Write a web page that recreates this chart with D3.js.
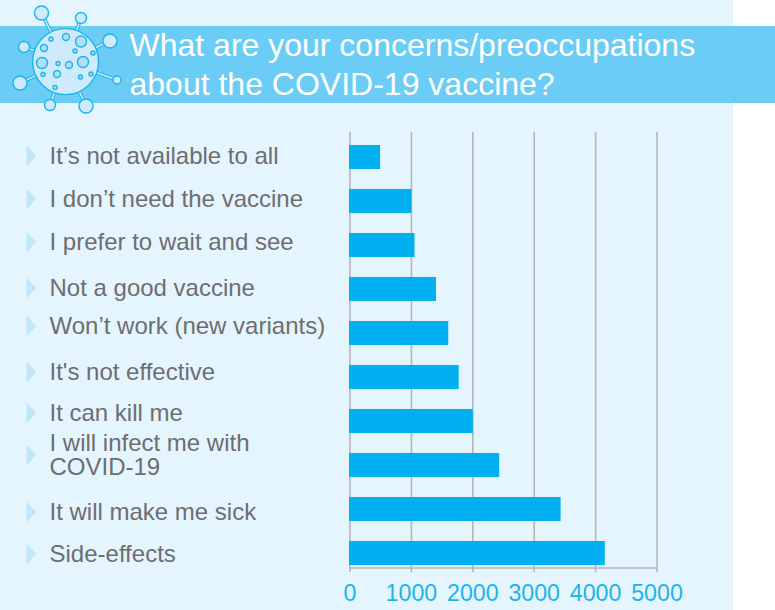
<!DOCTYPE html>
<html lang="en">
<head>
    <meta charset="UTF-8">
    <title>COVID-19 vaccine concerns</title>
    <script src="https://d3js.org/d3.v7.min.js"></script>
    <style>
        body {
            margin: 0;
            padding: 0;
            background-color: #fff;
        }
        svg {
            display: block;
            font-family: "Liberation Sans", Arial, sans-serif;
        }
        .label {
            font-size: 24px;
            fill: #6d6e71;
        }
        .title {
            font-size: 32px;
            fill: #fff;
        }
        .axis text {
            font-size: 23.2px;
            fill: #1cb4ee;
            font-family: "Liberation Sans", Arial, sans-serif;
        }
        .axis line, .axis path {
            stroke: #b4b6b9;
            stroke-width: 1.6;
        }
    </style>
</head>
<body>
    <script>
        const categories = ["It’s not available to all", "I don’t need the vaccine", "I prefer to wait and see",
            "Not a good vaccine", "Won’t work (new variants)", "It's not effective", "It can kill me",
            "I will infect me with\nCOVID-19", "It will make me sick", "Side-effects"];
        const values = [490, 1000, 1050, 1400, 1600, 1770, 2000, 2430, 3430, 4150];
        const xTicks = [0, 1000, 2000, 3000, 4000, 5000];
        const titleLines = ["What are your concerns/preoccupations", "about the COVID-19 vaccine?"];

        // the labels are loose text boxes in the original, they don't line up with the bars
        const labelCenters = [156, 199, 242, 288, 326, 372, 413, 455, 512, 554];

        // virus icon: [x, y, r]
        const virusEnds = [[41.5, 13, 7], [81, 18, 5.5], [110, 41, 7], [117, 80, 4], [86, 106, 7], [50, 105, 5.5], [20, 83, 7], [24, 47, 5.5]];
        const virusSpots = [[51, 39, 2], [66, 37, 3.5], [81, 41.5, 5.5], [44, 48, 3.5], [75, 51, 2], [93, 53, 2], [42, 63, 5.5], [58, 63.5, 2], [69, 65, 3.5], [83, 62, 5.5], [57, 74, 3.5], [43, 74.5, 2], [91, 74, 2], [80.5, 77, 2], [55, 87.5, 2]];

        const svg = d3.select("body").append("svg")
            .attr("width", 775)
            .attr("height", 610);

        svg.append("rect").attr("width", 733).attr("height", 610).attr("fill", "#e5f5fd");
        svg.append("rect").attr("y", 26).attr("width", 775).attr("height", 77).attr("fill", "#6bcdf6");

        svg.selectAll(".title").data(titleLines).enter().append("text")
            .attr("class", "title")
            .attr("x", 129.5)
            .attr("y", (d, i) => 56 + i * 39)
            .text(d => d);

        // icon
        const virus = svg.append("g");
        const cx = 65.6, cy = 61.6;
        virus.selectAll(".spike-out").data(virusEnds).enter().append("line")
            .attr("x1", cx).attr("y1", cy)
            .attr("x2", d => d[0]).attr("y2", d => d[1])
            .attr("stroke", "#1cb4ee").attr("stroke-width", 3.6);
        virus.selectAll(".spike-in").data(virusEnds).enter().append("line")
            .attr("x1", cx).attr("y1", cy)
            .attr("x2", d => d[0]).attr("y2", d => d[1])
            .attr("stroke", "#cdebfb").attr("stroke-width", 1.6);
        virus.selectAll(".end").data(virusEnds).enter().append("circle")
            .attr("cx", d => d[0]).attr("cy", d => d[1]).attr("r", d => d[2])
            .attr("fill", "#cdebfb").attr("stroke", "#1cb4ee").attr("stroke-width", 1.4);
        virus.append("circle")
            .attr("cx", cx).attr("cy", cy).attr("r", 33)
            .attr("fill", "#cdebfb").attr("stroke", "#1cb4ee").attr("stroke-width", 1.4);
        virus.selectAll(".spot").data(virusSpots).enter().append("circle")
            .attr("cx", d => d[0]).attr("cy", d => d[1]).attr("r", d => d[2])
            .attr("fill", "#b0e0f7").attr("stroke", "#1cb4ee").attr("stroke-width", 1.4);

        const x = d3.scaleLinear().domain([0, 5000]).range([350, 657]);
        const y = d3.scaleBand().domain(categories).range([135, 575]).paddingInner(20 / 44).paddingOuter(10 / 44);

        const axis = svg.append("g")
            .attr("class", "axis")
            .attr("transform", "translate(0,568)")
            .call(d3.axisBottom(x).tickValues(xTicks).tickFormat(d3.format("d")).tickSizeOuter(0).offset(0));
        axis.select(".domain").attr("d", `M${x(0)},0H${x(5000)}`);
        axis.selectAll(".tick line").attr("y1", -436).attr("y2", 4);
        axis.selectAll(".tick text").attr("y", 12).attr("dy", "21");

        svg.selectAll(".bar").data(values).enter().append("rect")
            .attr("class", "bar")
            .attr("x", x(0) - 1)
            .attr("y", (d, i) => y(categories[i]))
            .attr("width", d => x(d) - x(0) + 1)
            .attr("height", y.bandwidth())
            .attr("fill", "#00b0f0");

        // category labels with little arrows
        const labels = svg.selectAll(".item").data(categories).enter().append("g")
            .attr("class", "item")
            .attr("transform", (d, i) => `translate(0,${labelCenters[i]})`);
        labels.append("path")
            .attr("d", "M26.5,-10.5L36,0L26.5,10.5Z")
            .attr("fill", "#bfe6fb");
        labels.each(function(d) {
            const lines = d.split("\n");
            d3.select(this).selectAll("text").data(lines).enter().append("text")
                .attr("class", "label")
                .attr("x", 49.5)
                .attr("y", (l, i) => 8 + (i - (lines.length - 1) / 2) * 24.5)
                .text(l => l);
        });
    </script>
</body>
</html>
